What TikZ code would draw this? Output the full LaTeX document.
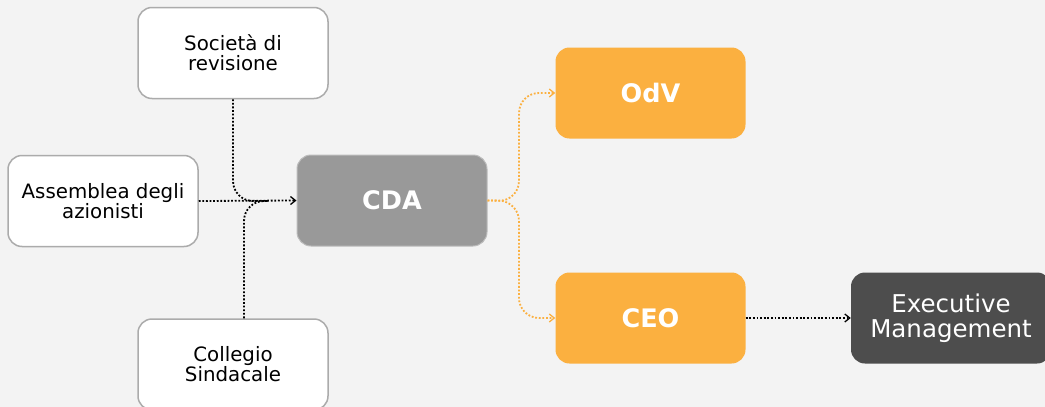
\documentclass[tikz,border=0pt]{standalone}
\usepackage{fontspec}
\setmainfont{DejaVu Sans}
\usetikzlibrary{arrows.meta}
\definecolor{bg}{HTML}{F3F3F3}
\definecolor{bordergray}{HTML}{ABABAB}
\definecolor{cdagray}{HTML}{999999}
\definecolor{orng}{HTML}{FBB040}
\definecolor{darkg}{HTML}{4D4D4D}
\tikzset{
  box/.style={rounded corners=14pt, minimum width=190pt, minimum height=91pt, align=center, inner sep=0pt},
  whitebox/.style={box, fill=white, draw=bordergray, line width=1.5pt, font=\fontsize{19.8}{20}\selectfont},
  cdabox/.style={box, fill=cdagray, draw=bordergray!80, line width=1pt, text=white, font=\fontsize{25.5}{24}\selectfont\bfseries},
  orbox/.style={box, fill=orng, text=white, font=\fontsize{25.5}{24}\selectfont\bfseries},
  darkbox/.style={box, fill=darkg, text=white, minimum width=200pt, font=\fontsize{24.5}{25}\selectfont},
  conn/.style={dash pattern=on 1.8pt off 1.8pt, line width=1.8pt, rounded corners=20pt},
  arr/.style={-{Straight Barb[length=5pt,width=8pt,line width=1.3pt]}},
}
\begin{document}
\begin{tikzpicture}[x=1pt,y=-1pt]
\fill[bg] (0,0) rectangle (1045,407);
\useasboundingbox (0,0) rectangle (1045,407);
\node[whitebox] (soc) at (233,53) {Società di\\revisione};
\node[whitebox] (ass) at (103,201) {Assemblea degli\\azionisti};
\node[whitebox] (col) at (233,364.5) {Collegio\\Sindacale};
\node[cdabox] (cda) at (392,200.5) {CDA};
\node[orbox] (odv) at (650.5,93) {OdV};
\node[orbox] (ceo) at (650.5,318) {CEO};
\node[darkbox] (exe) at (951,318) {Executive\\Management};
\coordinate (j) at (268,201);
\coordinate (k) at (519,201);
\draw[conn] (soc.south) |- (j);
\draw[conn] (col.north -| 244,0) |- (j);
\draw[conn, arr] (ass.east) -- (cda.west);
\draw[conn, orng, arr] (cda.east) -- (k) |- (odv.west);
\draw[conn, orng, arr] (cda.east) -- (k) |- (ceo.west);
\draw[conn, arr] (ceo.east) -- (exe.west);
\end{tikzpicture}
\end{document}
